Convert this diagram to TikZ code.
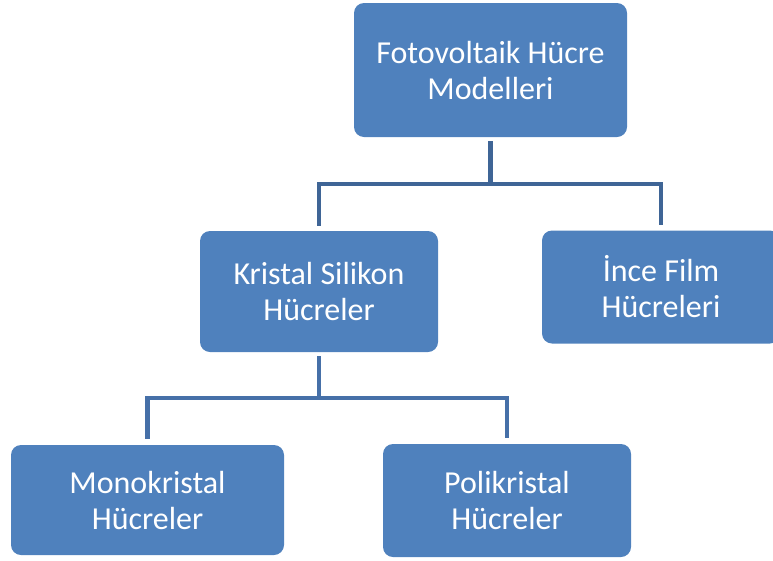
\documentclass[tikz,border=0pt]{standalone}
\usepackage{fontspec}
\setmainfont{Carlito}
\definecolor{boxblue}{HTML}{4F81BD}
\definecolor{linedark}{HTML}{3F6596}
\definecolor{linemid}{HTML}{4670A8}
\begin{document}
\begin{tikzpicture}[x=1pt,y=-1pt,
  box/.style={fill=boxblue, rounded corners=10pt, text=white, align=center,
    font=\fontsize{32}{36}\selectfont, inner sep=0pt},
  connA/.style={draw=linedark, line width=4.2pt},
  connB/.style={draw=linemid, line width=4.2pt}]
\useasboundingbox (0,0) rectangle (773,560);
\clip (0,0) rectangle (773,560);
\node[box, minimum width=273pt, minimum height=134pt] (top) at (490.5,70) {Fotovoltaik Hücre\\Modelleri};
\node[box, minimum width=238pt, minimum height=121pt] (kristal) at (319,291.5) {Kristal Silikon\\Hücreler};
\node[box, minimum width=238pt, minimum height=113pt] (ince) at (661,287) {İnce Film\\Hücreleri};
\node[box, minimum width=273pt, minimum height=110pt] (mono) at (147.5,500) {Monokristal\\Hücreler};
\node[box, minimum width=248pt, minimum height=113pt] (poli) at (507,500.5) {Polikristal\\Hücreler};
\coordinate (j1) at (490.5,184);
\coordinate (j2) at (319,398);
\draw[connA] ([yshift=-4pt]top.south) -- (j1);
\draw[connA] ([yshift=5pt]kristal.north) |- (j1) -| ([yshift=5pt]ince.north);
\draw[connB] ([yshift=-4pt]kristal.south) -- (j2);
\draw[connB] ([yshift=6pt]mono.north) |- (j2) -| ([yshift=6pt]poli.north);
\end{tikzpicture}
\end{document}
